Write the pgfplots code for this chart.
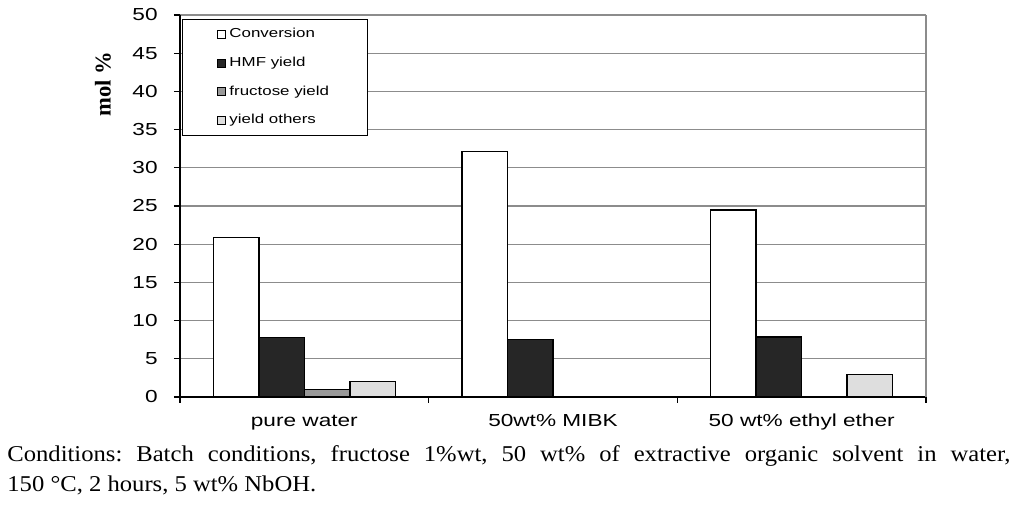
\documentclass[border=0pt]{standalone}
\usepackage{fontspec}
\setmainfont{Liberation Serif}
\newfontfamily\chartfont[FakeStretch=1.3]{Liberation Sans}
\newfontfamily\capfont[FakeStretch=1.09]{Liberation Serif}
\usepackage{pgfplots}
\pgfplotsset{compat=1.18}
\definecolor{hmf}{HTML}{262626}
\definecolor{fru}{HTML}{999999}
\definecolor{oth}{HTML}{DEDEDE}
\definecolor{gridc}{HTML}{8C8C8C}
\frenchspacing
\begin{document}
\begin{tikzpicture}
\begin{axis}[
  scale only axis, width=373pt, height=191pt,
  xmin=-0.5, xmax=2.5, ymin=0, ymax=50,
  axis lines=left, axis line style={-, line width=0.9pt, black},
  ytick={0,5,...,50}, ymajorgrids, grid style={gridc, line width=0.6pt},
  xtick={-0.5,0.5,1.5,2.5}, x tick label as interval,
  xticklabels={pure water, 50wt\% MIBK, 50 wt\% ethyl ether},
  tick align=outside, major tick length=3pt, tick style={black, line width=0.6pt},
  /pgf/number format/assume math mode=true,
  ticklabel style={font=\chartfont\fontsize{8.7}{10}\selectfont},
  yticklabel style={inner sep=0pt, xshift=-8pt},
  xticklabel style={anchor=base, inner sep=0pt, yshift=-12pt},
  ylabel={mol \%},
  every axis y label/.style={at={(axis description cs:0,0.819)}, xshift=-38.5pt, rotate=90, anchor=center, font=\bfseries\fontsize{11.3}{12}\selectfont},
  clip=false,
  legend style={at={(rel axis cs:0,1)}, anchor=north west, xshift=1pt, yshift=-2pt,
    draw=black, line width=0.5pt, font=\chartfont\fontsize{6.5}{7}\selectfont,
    inner xsep=17.5pt, inner ysep=4.5pt, row sep=8.2pt,
    nodes={inner xsep=1.5pt, inner ysep=0pt, text height=4.7pt, text depth=1.4pt},
    cells={anchor=west}},
  legend cell align=left,
  legend image code/.code={\draw[#1, line width=0.5pt] (0pt,-2pt) rectangle (4pt,2pt);},
]
\addplot[ybar, bar width=0.183, bar shift=-0.2745, fill=white, draw=black, line width=0.7pt]
  coordinates {(0,20.9) (1,32.1) (2,24.5)};
\addplot[ybar, bar width=0.183, bar shift=-0.0915, fill=hmf, draw=black, line width=0.7pt]
  coordinates {(0,7.75) (1,7.5) (2,7.85)};
\addplot[ybar, bar width=0.183, bar shift=0.0915, fill=fru, draw=black, line width=0.7pt]
  coordinates {(0,1.0)};
\addplot[ybar, bar width=0.183, bar shift=0.2745, fill=oth, draw=black, line width=0.7pt]
  coordinates {(0,2.05) (2,2.97)};
\legend{Conversion, HMF yield, fructose yield, yield others}
\draw[gridc, line width=0.6pt] (rel axis cs:1,0) -- (rel axis cs:1,1);
\end{axis}
\node[anchor=base west, inner sep=0pt, text width=501.5pt, align=justify,
  font=\capfont\fontsize{11.3}{15}\selectfont] at (-86.5pt,-32.5pt)
  {\noindent Conditions: Batch conditions, fructose 1\%wt, 50 wt\% of extractive organic solvent in water,\linebreak 150 °C, 2 hours, 5 wt\% NbOH.};
\path (-90pt,-58.5pt) rectangle (422pt,198.5pt);
\end{tikzpicture}
\end{document}
